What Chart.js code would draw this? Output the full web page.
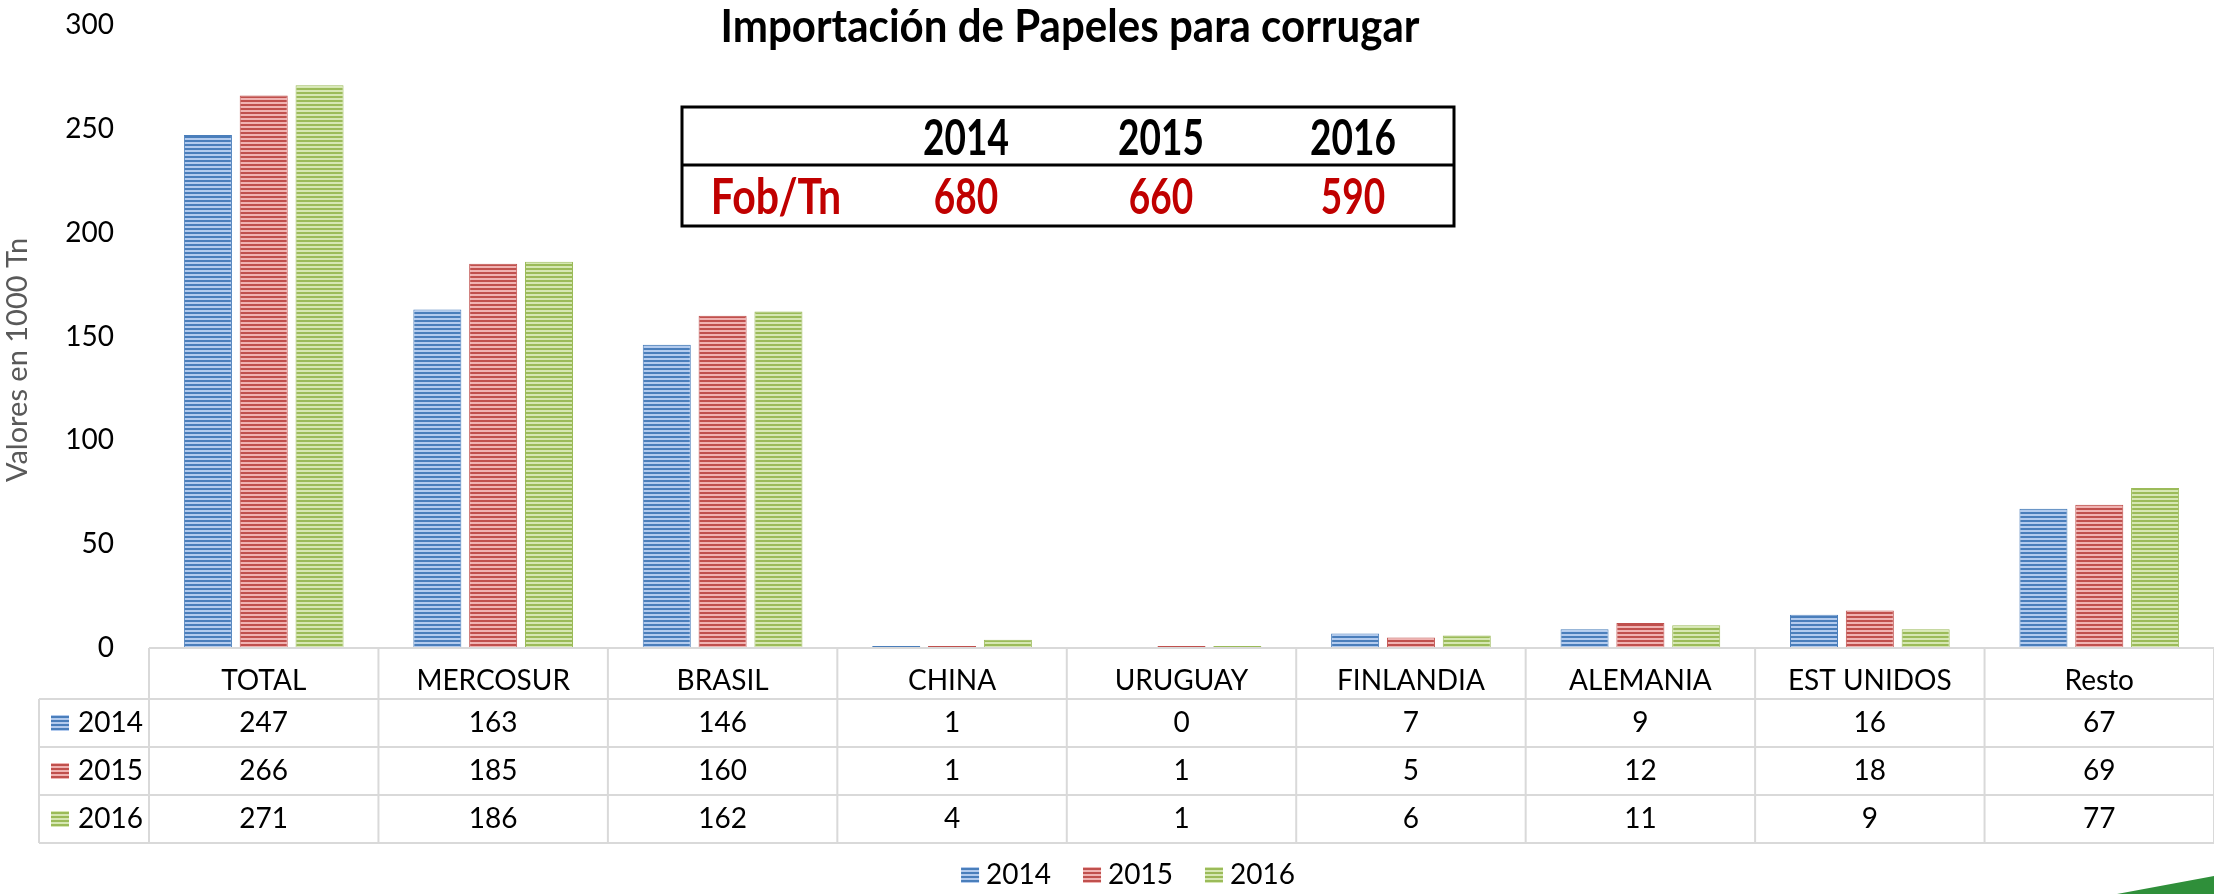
<!DOCTYPE html>
<html>
<head>
<meta charset="utf-8">
<script src="https://cdn.jsdelivr.net/npm/chart.js@4/dist/chart.umd.min.js"></script>
<style>
  body { margin: 0; background: #fff; overflow: hidden; }
  canvas { display: block; }
</style>
</head>
<body>
<canvas id="chart" width="2214" height="894"></canvas>
<script>
const categories = ["TOTAL", "MERCOSUR", "BRASIL", "CHINA", "URUGUAY", "FINLANDIA", "ALEMANIA", "EST UNIDOS", "Resto"];
const years = ["2014", "2015", "2016"];
const values2014 = [247, 163, 146, 1, 0, 7, 9, 16, 67];
const values2015 = [266, 185, 160, 1, 1, 5, 12, 18, 69];
const values2016 = [271, 186, 162, 4, 1, 6, 11, 9, 77];
const yTicks = [0, 50, 100, 150, 200, 250, 300];
const fobYears = ["2014", "2015", "2016"];
const fobValues = [680, 660, 590];

const FONT = "Lato, 'Open Sans', sans-serif";
const ctx = document.getElementById("chart");

// striped fill like the excel bars
function stripes(dark, light) {
  const c = document.createElement("canvas");
  c.width = 4; c.height = 4;
  const g = c.getContext("2d");
  g.fillStyle = light; g.fillRect(0, 0, 4, 4);
  g.fillStyle = dark; g.fillRect(0, 0, 4, 2);
  return g.createPattern(c, "repeat");
}
const colors = [
  { dark: "#4a7ebb", light: "#b3cbee" },
  { dark: "#c0504d", light: "#f0b3b2" },
  { dark: "#9bbb59", light: "#d6e7b3" }
];
const series = [values2014, values2015, values2016];

// draws the data table, titles, price box and legend
const extras = {
  id: "extras",
  afterDraw(chart) {
    const c = chart.ctx;
    const x = chart.scales.x;
    const area = chart.chartArea;
    const top = area.bottom;
    const right = chart.width;
    const n = categories.length;
    const cw = (x.right - x.left) / n;
    const rowTops = [top + 51, top + 99, top + 147, top + 195];

    c.save();
    c.strokeStyle = "#d9d9d9";
    c.lineWidth = 2;
    c.beginPath();
    c.moveTo(area.left, top); c.lineTo(right, top);
    rowTops.forEach(y => { c.moveTo(39, y); c.lineTo(right, y); });
    for (let i = 0; i <= n; i++) {
      const xx = x.left + i * cw;
      c.moveTo(xx, top); c.lineTo(xx, rowTops[3]);
    }
    c.moveTo(39, rowTops[0]); c.lineTo(39, rowTops[3]);
    c.stroke();

    // values
    c.fillStyle = "#000";
    c.font = "28px " + FONT;
    c.textAlign = "center";
    c.textBaseline = "middle";
    series.forEach((vals, r) => {
      const yc = rowTops[r] + 24;
      vals.forEach((v, i) => c.fillText(String(v), x.getPixelForValue(i), yc));
      // row legend key
      c.fillStyle = chart.data.datasets[r].backgroundColor;
      c.fillRect(51, yc - 8, 18, 16);
      c.fillStyle = "#000";
      c.textAlign = "left";
      c.fillText(years[r], 78, yc);
      c.textAlign = "center";
    });

    // bottom legend
    c.font = "28px " + FONT;
    const widths = years.map(t => 18 + 7 + c.measureText(t).width);
    const gap = 32;
    const total = widths.reduce((a, b) => a + b, 0) + gap * (years.length - 1);
    let lx = 1128 - total / 2;
    const ly = 875;
    years.forEach((t, i) => {
      c.fillStyle = chart.data.datasets[i].backgroundColor;
      c.fillRect(lx, ly - 8, 18, 16);
      c.fillStyle = "#000";
      c.textAlign = "left";
      c.fillText(t, lx + 25, ly);
      lx += widths[i] + gap;
    });

    // y axis title
    c.save();
    c.translate(18, 360);
    c.rotate(-Math.PI / 2);
    c.font = "29px " + FONT;
    c.fillStyle = "#595959";
    c.textAlign = "center";
    c.fillText("Valores en 1000 Tn", 0, 0);
    c.restore();

    // title (condensed look)
    c.font = "bold 46px " + FONT;
    c.fillStyle = "#000";
    const title = "Importación de Papeles para corrugar";
    const tw = c.measureText(title).width;
    c.save();
    c.translate(1070, 27);
    c.scale(699 / tw, 1);
    c.textAlign = "center";
    c.fillText(title, 0, 0);
    c.restore();

    // price box
    c.strokeStyle = "#000";
    c.lineWidth = 3;
    c.strokeRect(682, 107, 772, 119);
    c.beginPath(); c.moveTo(682, 165); c.lineTo(1454, 165); c.stroke();
    const boxCols = [966, 1161, 1353];
    const drawNarrow = (txt, cx, cy, color, sx) => {
      c.font = "bold 50px " + FONT;
      c.fillStyle = color;
      c.save();
      c.translate(cx, cy);
      c.scale(sx, 1);
      c.textAlign = "center";
      c.fillText(txt, 0, 0);
      c.restore();
    };
    fobYears.forEach((t, i) => drawNarrow(t, boxCols[i], 139, "#000", 0.74));
    drawNarrow("Fob/Tn", 776, 198, "#c00000", 0.82);
    fobValues.forEach((v, i) => drawNarrow(String(v), boxCols[i], 198, "#c00000", 0.74));

    // green corner decoration
    c.fillStyle = "#2f8f3a";
    c.beginPath();
    c.moveTo(2117, 894); c.lineTo(2214, 876); c.lineTo(2214, 894); c.closePath();
    c.fill();
    c.restore();
  }
};

new Chart(ctx, {
  type: "bar",
  data: {
    labels: categories,
    datasets: series.map((vals, i) => ({
      label: years[i],
      data: vals,
      backgroundColor: stripes(colors[i].dark, colors[i].light),
      borderColor: colors[i].dark,
      borderWidth: 1,
      categoryPercentage: 0.73,
      barPercentage: 0.86
    }))
  },
  options: {
    responsive: false,
    devicePixelRatio: 1,
    animation: false,
    layout: { padding: { top: 25, right: 0, left: 0, bottom: 0 } },
    plugins: { legend: { display: false }, tooltip: { enabled: false } },
    scales: {
      x: {
        grid: { display: false },
        border: { display: false },
        ticks: { color: "#000", font: { family: FONT, size: 28 }, padding: 8, maxRotation: 0 },
        afterFit(scale) { scale.height = 246; }
      },
      y: {
        min: 0,
        max: 300,
        grid: { display: false },
        border: { display: false },
        afterBuildTicks(scale) { scale.ticks = yTicks.map(v => ({ value: v })); },
        ticks: { color: "#000", font: { family: FONT, size: 28 }, padding: 27 },
        afterFit(scale) {
          scale.width = 149;
          scale.paddingTop = 0;
          scale.paddingBottom = 0;
        }
      }
    }
  },
  plugins: [extras]
});
</script>
</body>
</html>
